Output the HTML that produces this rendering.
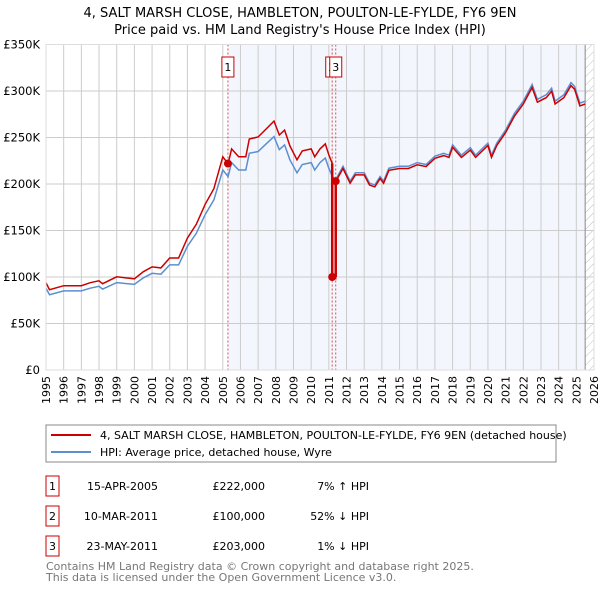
<!DOCTYPE html>
<html><head><meta charset="utf-8"><style>
body{margin:0;background:#fff;font-family:"Liberation Sans","DejaVu Sans",sans-serif;}
svg text{font-family:"DejaVu Sans","Liberation Sans",sans-serif;}
</style></head><body>
<svg id="c" width="600" height="590" xmlns="http://www.w3.org/2000/svg">
<text x="300" y="17" text-anchor="middle" font-size="13">4, SALT MARSH CLOSE, HAMBLETON, POULTON-LE-FYLDE, FY6 9EN</text>
<text x="300" y="34" text-anchor="middle" font-size="13">Price paid vs. HM Land Registry's House Price Index (HPI)</text>
<defs><pattern id="hatch" width="6" height="6" patternUnits="userSpaceOnUse" patternTransform="rotate(45)"><line x1="0" y1="0" x2="0" y2="6" stroke="#bbb" stroke-width="1"/></pattern></defs>
<g id="plot"></g>
<g>
<rect x="46" y="425" width="510" height="37" fill="#fff" stroke="#888"/>
<line x1="51" y1="435" x2="91" y2="435" stroke="#cc0000" stroke-width="2"/>
<text x="100" y="439" font-size="11">4, SALT MARSH CLOSE, HAMBLETON, POULTON-LE-FYLDE, FY6 9EN (detached house)</text>
<line x1="51" y1="452" x2="91" y2="452" stroke="#5b8fd0" stroke-width="2"/>
<text x="100" y="456" font-size="11">HPI: Average price, detached house, Wyre</text>
</g>
<g id="table" font-size="11"></g>
<text x="46" y="570" font-size="11" fill="#777">Contains HM Land Registry data © Crown copyright and database right 2025.</text>
<text x="46" y="581" font-size="11" fill="#777">This data is licensed under the Open Government Licence v3.0.</text>
</svg>
<script>
const hpiYears=[1995.0,1995.2,1996,1997,1997.5,1998,1998.2,1999,2000,2000.5,2001,2001.5,2002,2002.5,2003,2003.5,2004,2004.5,2005,2005.3,2005.5,2005.9,2006.3,2006.5,2007,2007.5,2007.9,2008.2,2008.5,2008.8,2009.2,2009.5,2010,2010.2,2010.5,2010.8,2011.0,2011.2,2011.4,2011.8,2012.2,2012.5,2013,2013.3,2013.6,2013.9,2014.1,2014.4,2015,2015.5,2016,2016.5,2017,2017.5,2017.8,2018,2018.5,2019,2019.3,2020,2020.2,2020.5,2021,2021.5,2022,2022.5,2022.8,2023.3,2023.6,2023.8,2024.3,2024.7,2024.9,2025.2,2025.5];
const hpiValues=[88,81,85,85,88,90,87,94,92,99,104,103,113,113,133,147,167,183,215,208,223,215,215,233,235,244,251,237,242,226,212,221,223,215,223,228,217,208,205,219,203,212,212,201,199,208,203,217,219,219,223,221,230,233,231,242,231,239,231,244,231,244,258,276,289,307,291,296,303,289,296,309,305,287,289];
const saleLabels=["1","2","3"];
const saleDates=["15-APR-2005","10-MAR-2011","23-MAY-2011"];
const saleYears=[2005.29,2011.19,2011.39];
const salePrices=[222000,100000,203000];
const saleHpiText=["7% \u2191 HPI","52% \u2193 HPI","1% \u2193 HPI"];
const yTicks=[0,50000,100000,150000,200000,250000,300000,350000];
const yTickLabels=["£0","£50K","£100K","£150K","£200K","£250K","£300K","£350K"];
const xTicks=[];for(let y=1995;y<=2026;y++)xTicks.push(y);

const NS="http://www.w3.org/2000/svg";
const X0=46,X1=594,Y0=370,Y1=44.5;
const xs=t=>X0+(t-1995)/(2026-1995)*(X1-X0);
const ys=v=>Y0-v/350000*(Y0-Y1);
const plot=document.getElementById('plot');
function mk(tag,attrs,parent){const e=document.createElementNS(NS,tag);for(const k in attrs)e.setAttribute(k,attrs[k]);(parent||plot).appendChild(e);return e;}
function hpiAt(t){for(let i=1;i<hpiYears.length;i++){if(t<=hpiYears[i]){const f=(t-hpiYears[i-1])/(hpiYears[i]-hpiYears[i-1]);return (hpiValues[i-1]+f*(hpiValues[i]-hpiValues[i-1]))*1000;}}return hpiValues[hpiValues.length-1]*1000;}

let e=mk('rect',{x:xs(saleYears[0]),y:Y1,width:xs(2025.5)-xs(saleYears[0]),height:Y0-Y1,fill:'#f3f6fd'});


e=mk('rect',{x:xs(2025.5),y:Y1,width:X1-xs(2025.5),height:Y0-Y1,fill:'url(#hatch)'});


yTicks.forEach((v,i)=>{
 e=mk('line',{x1:X0,x2:X1,y1:ys(v),y2:ys(v),stroke:'#ccc','stroke-width':1});
 
 
 e=mk('text',{x:X0-6,y:ys(v)+4,'text-anchor':'end','font-size':'11.5'});e.textContent=yTickLabels[i];
 
 
});
xTicks.forEach(t=>{
 e=mk('line',{x1:xs(t),x2:xs(t),y1:Y1,y2:Y0,stroke:'#ccc','stroke-width':1});
 
 
 const lx=xs(t)+4,ly=Y0+6;
 e=mk('text',{x:lx,y:ly,'text-anchor':'end','font-size':'11',transform:'rotate(-90 '+lx+' '+ly+')'});e.textContent=String(t);
 
 
});
e=mk('line',{x1:xs(2025.5),x2:xs(2025.5),y1:Y1,y2:Y0,stroke:'#888','stroke-width':1});


saleYears.forEach(t=>{
 e=mk('line',{x1:xs(t),x2:xs(t),y1:Y1,y2:Y0,stroke:'#e05050','stroke-width':1,'stroke-dasharray':'2,2'});
 
 
});
const hp=hpiYears.map((t,i)=>xs(t).toFixed(1)+','+ys(hpiValues[i]*1000).toFixed(1)).join(' ');
e=mk('polyline',{points:hp,fill:'none',stroke:'#5b8fd0','stroke-width':1.5});


const ratios=salePrices.map((p,i)=>p/hpiAt(saleYears[i]));
const pts=[];
function ratioAt(t){let r=ratios[0];for(let i=0;i<saleYears.length;i++)if(t>=saleYears[i])r=ratios[i];return r;}
let events=hpiYears.map(t=>({t,type:'h'}));
saleYears.forEach((t,i)=>events.push({t,type:'s',i}));
events.sort((a,b)=>a.t-b.t);
events.forEach(ev=>{
 if(ev.type==='h'){pts.push([ev.t,hpiAt(ev.t)*ratioAt(ev.t)]);}
 else{const prev=ev.i>0?ratios[ev.i-1]:ratios[0];pts.push([ev.t,hpiAt(ev.t)*prev]);pts.push([ev.t,salePrices[ev.i]]);}
});
e=mk('polyline',{points:pts.map(p=>xs(p[0]).toFixed(1)+','+ys(p[1]).toFixed(1)).join(' '),fill:'none',stroke:'#cc0000','stroke-width':1.5});


e=mk('line',{x1:xs(saleYears[1]),x2:xs(saleYears[1]),y1:ys(salePrices[1]),y2:ys(hpiAt(saleYears[1])*ratios[0]),stroke:'#cc0000','stroke-width':2.5});


e=mk('line',{x1:xs(saleYears[2]),x2:xs(saleYears[2]),y1:ys(salePrices[1]),y2:ys(salePrices[2]),stroke:'#cc0000','stroke-width':2.5});


saleYears.forEach((t,i)=>{
 e=mk('circle',{cx:xs(t),cy:ys(salePrices[i]),r:4,fill:'#cc0000'});
 
 
});
[1,0,2].forEach(i=>{
 const cx=i===1?xs(saleYears[2])-4:xs(saleYears[i]);
 e=mk('rect',{x:cx-6,y:57,width:12,height:20,fill:'#fff',stroke:'#cc0000','stroke-width':1});
 
 
 e=mk('text',{x:cx,y:71,'text-anchor':'middle','font-size':'11'});e.textContent=saleLabels[i];
 
 
});
e=mk('rect',{x:X0,y:Y1,width:X1-X0,height:Y0-Y1,fill:'none',stroke:'#ddd'});


const tb=document.getElementById('table');
saleLabels.forEach((l,i)=>{
 const y=486+i*30;
 e=mk('rect',{x:46,y:y-10,width:13,height:20,fill:'#fff',stroke:'#cc0000'},tb);
 
 
 e=mk('text',{x:52.5,y:y+4,'text-anchor':'middle'},tb);e.textContent=l;
 
 
 e=mk('text',{x:158,y:y+4,'text-anchor':'end'},tb);e.textContent=saleDates[i];
 
 
 e=mk('text',{x:265,y:y+4,'text-anchor':'end'},tb);e.textContent='£'+salePrices[i].toLocaleString('en-GB');
 
 
 e=mk('text',{x:369,y:y+4,'text-anchor':'end'},tb);e.textContent=saleHpiText[i];
 
 
});
</script>
</body></html>
